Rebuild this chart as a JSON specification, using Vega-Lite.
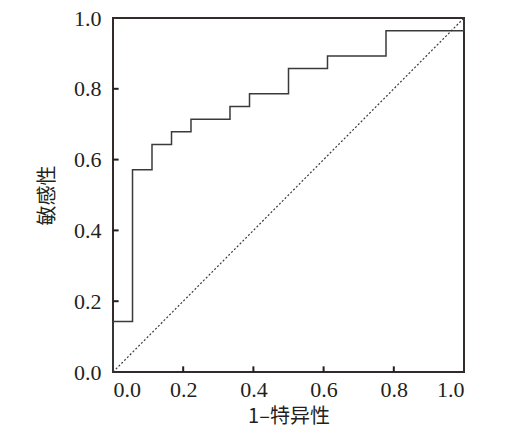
{
  "$schema": "https://vega.github.io/schema/vega-lite/v6.json",
  "width": 351,
  "height": 354,
  "autosize": "none",
  "background": "white",
  "padding": {"left": 113, "top": 18, "right": 47, "bottom": 55},
  "config": {
    "view": {"stroke": "#332b2a", "strokeWidth": 2},
    "axis": {
      "grid": false,
      "domain": false,
      "ticks": false,
      "labelFont": "Liberation Serif",
      "labelFontSize": 22,
      "labelColor": "#231f20",
      "titleFont": "Noto Sans CJK SC",
      "titleFontSize": 20,
      "titleFontWeight": "normal",
      "titleColor": "#231f20"
    }
  },
  "layer": [
    {
      "data": {"values": [
        {"step": 0, "fpr": 0, "tpr": 0},
        {"step": 1, "fpr": 0, "tpr": 0.1429},
        {"step": 2, "fpr": 0.0556, "tpr": 0.5714},
        {"step": 3, "fpr": 0.1111, "tpr": 0.6429},
        {"step": 4, "fpr": 0.1667, "tpr": 0.6786},
        {"step": 5, "fpr": 0.2222, "tpr": 0.7143},
        {"step": 6, "fpr": 0.3333, "tpr": 0.75},
        {"step": 7, "fpr": 0.3889, "tpr": 0.7857},
        {"step": 8, "fpr": 0.5, "tpr": 0.8571},
        {"step": 9, "fpr": 0.6111, "tpr": 0.8929},
        {"step": 10, "fpr": 0.7778, "tpr": 0.9643},
        {"step": 11, "fpr": 1, "tpr": 0.9643},
        {"step": 12, "fpr": 1, "tpr": 1}
      ]},
      "mark": {"type": "line", "interpolate": "step-after", "color": "#3a3a3a", "strokeWidth": 1.5},
      "encoding": {
        "x": {"field": "fpr", "type": "quantitative", "scale": {"domain": [0, 1], "nice": false},
          "axis": {"title": "1–特异性", "values": [0, 0.2, 0.4, 0.6, 0.8, 1], "format": ".1f", "labelPadding": 7, "titlePadding": 6}},
        "y": {"field": "tpr", "type": "quantitative", "scale": {"domain": [0, 1], "nice": false},
          "axis": {"title": "敏感性", "values": [0, 0.2, 0.4, 0.6, 0.8, 1], "format": ".1f", "labelPadding": 12, "titlePadding": 16}},
        "order": {"field": "step", "type": "quantitative"}
      }
    },
    {
      "data": {"values": [{"fpr": 0, "tpr": 0}, {"fpr": 1, "tpr": 1}]},
      "mark": {"type": "line", "color": "#3a3a3a", "strokeWidth": 1.2, "strokeDash": [2, 2]},
      "encoding": {
        "x": {"field": "fpr", "type": "quantitative"},
        "y": {"field": "tpr", "type": "quantitative"}
      }
    },
    {
      "data": {"values": [{"v": 0.2}, {"v": 0.4}, {"v": 0.6}, {"v": 0.8}]},
      "mark": {"type": "rule", "color": "#231f20", "strokeWidth": 2},
      "encoding": {
        "y": {"field": "v", "type": "quantitative"},
        "x": {"datum": 0},
        "x2": {"datum": 0.016}
      }
    },
    {
      "data": {"values": [{"v": 0.2}, {"v": 0.4}, {"v": 0.6}, {"v": 0.8}]},
      "mark": {"type": "rule", "color": "#231f20", "strokeWidth": 2},
      "encoding": {
        "x": {"field": "v", "type": "quantitative"},
        "y": {"datum": 0},
        "y2": {"datum": 0.016}
      }
    }
  ]
}
